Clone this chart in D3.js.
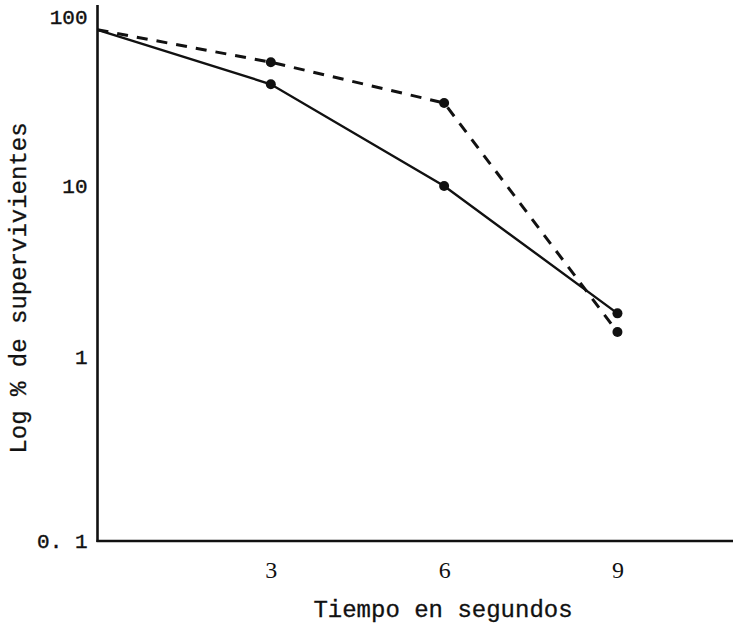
<!DOCTYPE html>
<html><head><meta charset="utf-8">
<script src="https://cdn.jsdelivr.net/npm/d3@7"></script>
<style>body{margin:0;background:#fff}svg{display:block}</style>
</head><body>
<svg id="c" width="733" height="626"></svg>
<script>
const times = [0, 3, 6, 9];
const solidSeries = [84, 40, 10, 1.8];
const dashedSeries = [84, 54, 31, 1.4];
const xTicks = [3, 6, 9];
const yTicks = [0.1, 1, 10, 100];
const yTickLabels = ["0. 1", "1", "10", "100"];
const xTitle = "Tiempo en segundos";
const yTitle = "Log % de supervivientes";

const svg = d3.select("#c");
const x = d3.scaleLinear().domain([0, 11]).range([97.5, 733]);
const y = d3.scaleLog().domain([0.1, 1, 10, 100]).range([541, 357, 186, 17]);
const ink = "#111";

// axes lines
svg.append("line").attr("x1", x(0)).attr("x2", x(0)).attr("y1", y(100) - 12).attr("y2", y(0.1) + 1)
  .attr("stroke", ink).attr("stroke-width", 2.6);
svg.append("line").attr("x1", x(0) - 1).attr("x2", x(11)).attr("y1", y(0.1)).attr("y2", y(0.1))
  .attr("stroke", ink).attr("stroke-width", 2.6);

// x axis labels
const xa = svg.append("g").attr("transform", `translate(0,${y(0.1)})`)
  .call(d3.axisBottom(x).tickValues(xTicks).tickSize(0).tickPadding(20).tickFormat(d3.format("d")));
xa.select(".domain").remove();
xa.selectAll(".tick text").attr("font-family", "Liberation Serif").attr("font-size", 24).attr("fill", ink);

// y axis labels
const ya = svg.append("g").attr("transform", `translate(${x(0)},0)`)
  .call(d3.axisLeft(y).tickValues(yTicks).tickSize(0).tickPadding(10)
    .tickFormat(d => yTickLabels[yTicks.indexOf(d)]));
ya.select(".domain").remove();
ya.selectAll("text").attr("font-family", "Liberation Mono").attr("font-size", 21).attr("fill", ink)
  .attr("stroke", ink).attr("stroke-width", 0.4);

// titles
svg.append("text").attr("x", 443).attr("y", 617).attr("text-anchor", "middle")
  .attr("font-family", "Liberation Mono").attr("font-size", 24).attr("fill", ink)
  .attr("stroke", ink).attr("stroke-width", 0.3).text(xTitle);
svg.append("text").attr("transform", "translate(26,288) rotate(-90)").attr("text-anchor", "middle")
  .attr("font-family", "Liberation Mono").attr("font-size", 24).attr("fill", ink)
  .attr("stroke", ink).attr("stroke-width", 0.3).text(yTitle);

const line = d3.line().x(d => x(d[0])).y(d => y(d[1]));
const solidPts = times.map((t, i) => [t, solidSeries[i]]);
const dashedPts = times.map((t, i) => [t, dashedSeries[i]]);

svg.append("path").attr("d", line(solidPts)).attr("fill", "none").attr("stroke", ink).attr("stroke-width", 2.4);
svg.append("path").attr("d", line(dashedPts)).attr("fill", "none").attr("stroke", ink).attr("stroke-width", 3)
  .attr("stroke-dasharray", "11,9");

svg.selectAll("circle.s").data(solidPts.slice(1)).join("circle").attr("class", "s")
  .attr("cx", d => x(d[0])).attr("cy", d => y(d[1])).attr("r", 5).attr("fill", ink);
svg.selectAll("circle.d").data(dashedPts.slice(1)).join("circle").attr("class", "d")
  .attr("cx", d => x(d[0])).attr("cy", d => y(d[1])).attr("r", 5).attr("fill", ink);
</script>
</body></html>
